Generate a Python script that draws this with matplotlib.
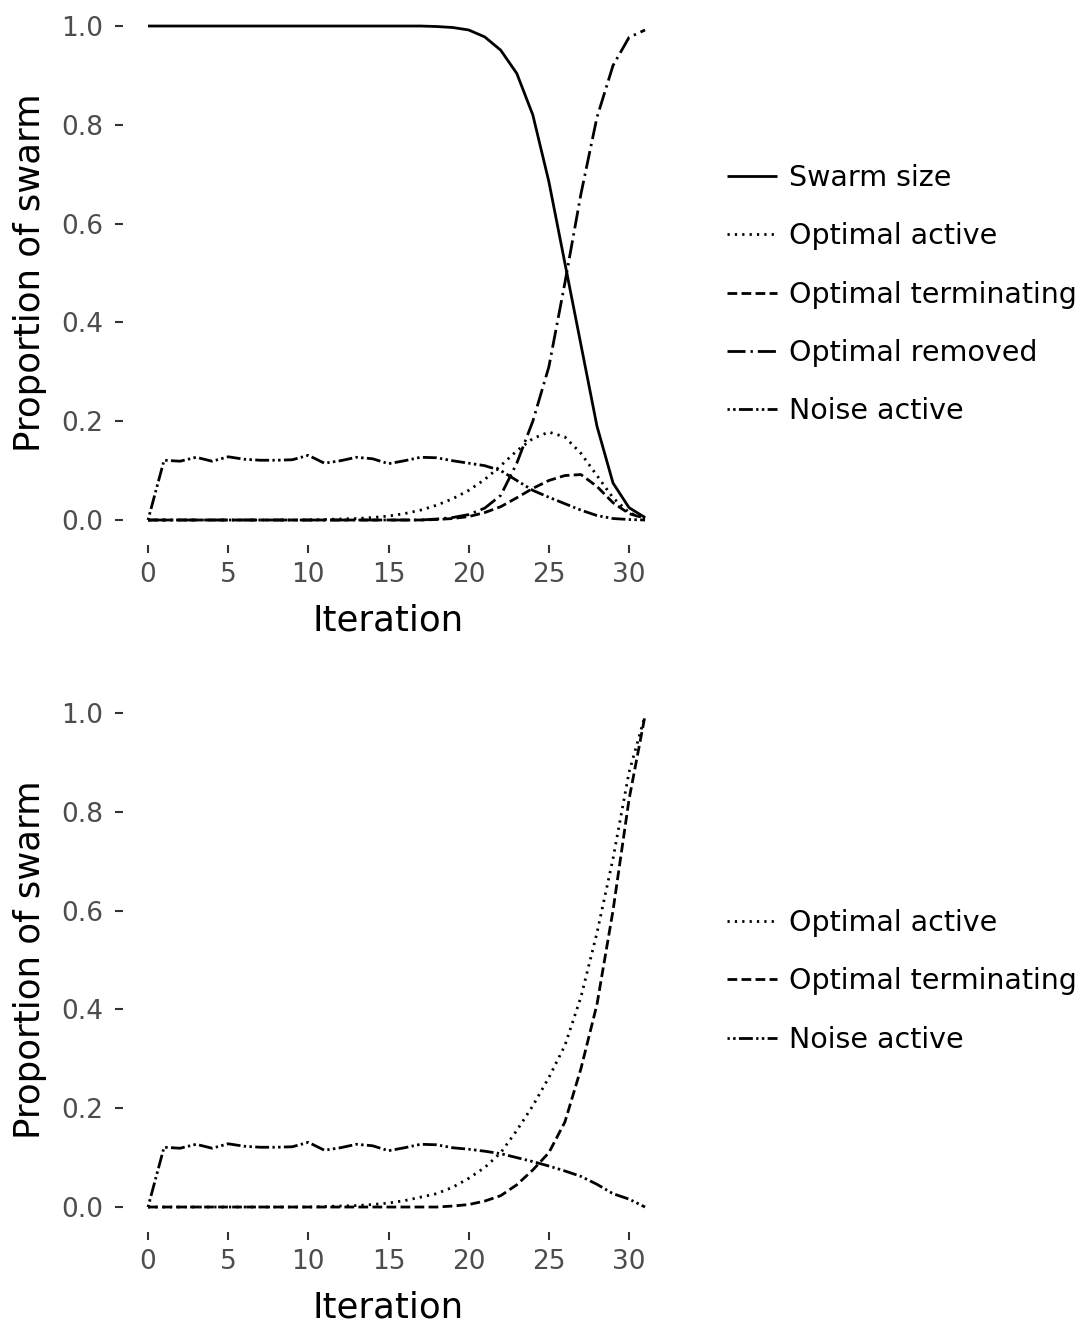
import matplotlib
matplotlib.use("Agg")
import matplotlib.pyplot as plt
import numpy as np

plt.rcParams['font.family'] = ['DejaVu Sans']
plt.rcParams['lines.scale_dashes'] = False

iteration = list(range(32))

# ---- top panel ----
top_swarm = [1.0]*18 + [0.999, 0.997, 0.992, 0.978, 0.951, 0.904, 0.820, 0.685,
                        0.52, 0.355, 0.19, 0.075, 0.025, 0.005]
top_opt_active = [0.0]*11 + [0.001, 0.002, 0.003, 0.005, 0.008, 0.013, 0.02, 0.03,
                             0.043, 0.06, 0.082, 0.11, 0.14, 0.165, 0.178, 0.168,
                             0.135, 0.09, 0.045, 0.015, 0.003]
top_opt_term = [0.0]*18 + [0.001, 0.003, 0.007, 0.015, 0.027, 0.045, 0.064, 0.08,
                           0.09, 0.092, 0.068, 0.035, 0.013, 0.003]
top_opt_removed = [0.0]*18 + [0.002, 0.005, 0.011, 0.024, 0.05, 0.115, 0.2, 0.31,
                              0.48, 0.66, 0.815, 0.92, 0.977, 0.992]
noise_early = [0.0, 0.121, 0.119, 0.127, 0.119, 0.128, 0.123, 0.121, 0.121, 0.122,
               0.131, 0.115, 0.12, 0.127, 0.124, 0.114, 0.12, 0.127, 0.126, 0.12]
top_noise = noise_early + [0.115, 0.11, 0.1, 0.08, 0.06, 0.046, 0.033, 0.02,
                           0.009, 0.003, 0.001, 0.0]

# ---- bottom panel ----
bot_opt_active = [0.0]*11 + [0.001, 0.002, 0.003, 0.005, 0.008, 0.013, 0.02, 0.027,
                             0.04, 0.058, 0.08, 0.11, 0.155, 0.205, 0.262, 0.327,
                             0.425, 0.555, 0.705, 0.88, 0.995]
bot_opt_term = [0.0]*19 + [0.002, 0.005, 0.012, 0.023, 0.045, 0.075, 0.11, 0.172,
                           0.28, 0.41, 0.6, 0.825, 0.995]
bot_noise = noise_early + [0.117, 0.113, 0.108, 0.1, 0.092, 0.083, 0.073, 0.062,
                           0.046, 0.027, 0.016, 0.0]

y_ticks = [0.0, 0.2, 0.4, 0.6, 0.8, 1.0]
x_ticks = [0, 5, 10, 15, 20, 25, 30]

LW = 2.0
styles = {
    'Swarm size': dict(linestyle='-'),
    'Optimal active': dict(linestyle=(0, (1.6, 3.7))),
    'Optimal terminating': dict(linestyle=(0, (7.0, 3.1))),
    'Optimal removed': dict(linestyle=(0, (13.0, 3.6, 1.65, 3.6))),
    'Noise active': dict(linestyle=(0, (1.65, 2.4, 1.8, 2.4, 10.0, 2.4))),
}

fig = plt.figure(figsize=(10.9, 13.25), dpi=100)
ax1 = fig.add_axes([0.1130, 0.5889, 0.5016, 0.4101])
ax2 = fig.add_axes([0.1130, 0.0704, 0.5016, 0.4101])

def style_axes(ax):
    ax.set_xlim(-1.55, 32.55)
    ax.set_ylim(-0.05, 1.05)
    for s in ax.spines.values():
        s.set_visible(False)
    ax.set_xticks(x_ticks)
    ax.set_yticks(y_ticks)
    ax.set_yticklabels([f"{v:.1f}" for v in y_ticks])
    ax.tick_params(axis='both', length=5.8, width=1.5, color='#333333',
                   labelcolor='#4d4d4d', labelsize=19)
    ax.tick_params(axis='y', pad=8.3)
    ax.tick_params(axis='x', pad=6.3)
    ax.set_xlabel('Iteration', fontsize=25.6, color='black', va='center')
    ax.set_ylabel('Proportion of swarm', fontsize=25.6, color='black',
                  va='center', ha='center')
    ax.xaxis.set_label_coords(0.4844, -0.1386)
    ax.yaxis.set_label_coords(-0.1705, 0.5)

def draw(ax, series):
    for name, vals in series:
        ax.plot(iteration, vals, color='black', linewidth=LW,
                solid_capstyle='butt', dash_capstyle='butt', label=name,
                **styles[name])

draw(ax1, [('Swarm size', top_swarm), ('Optimal active', top_opt_active),
           ('Optimal terminating', top_opt_term), ('Optimal removed', top_opt_removed),
           ('Noise active', top_noise)])
draw(ax2, [('Optimal active', bot_opt_active), ('Optimal terminating', bot_opt_term),
           ('Noise active', bot_noise)])
style_axes(ax1)
style_axes(ax2)

leg_kw = dict(loc='center left', frameon=False, fontsize=20.5, borderpad=0,
              borderaxespad=0, handlelength=1.75, handletextpad=0.43,
              labelspacing=1.06, bbox_transform=fig.transFigure)
ax1.legend(bbox_to_anchor=(0.667, 0.7777), **leg_kw)
ax2.legend(bbox_to_anchor=(0.667, 0.2593), **leg_kw)

fig.savefig('out.png', dpi=100, facecolor='white')
